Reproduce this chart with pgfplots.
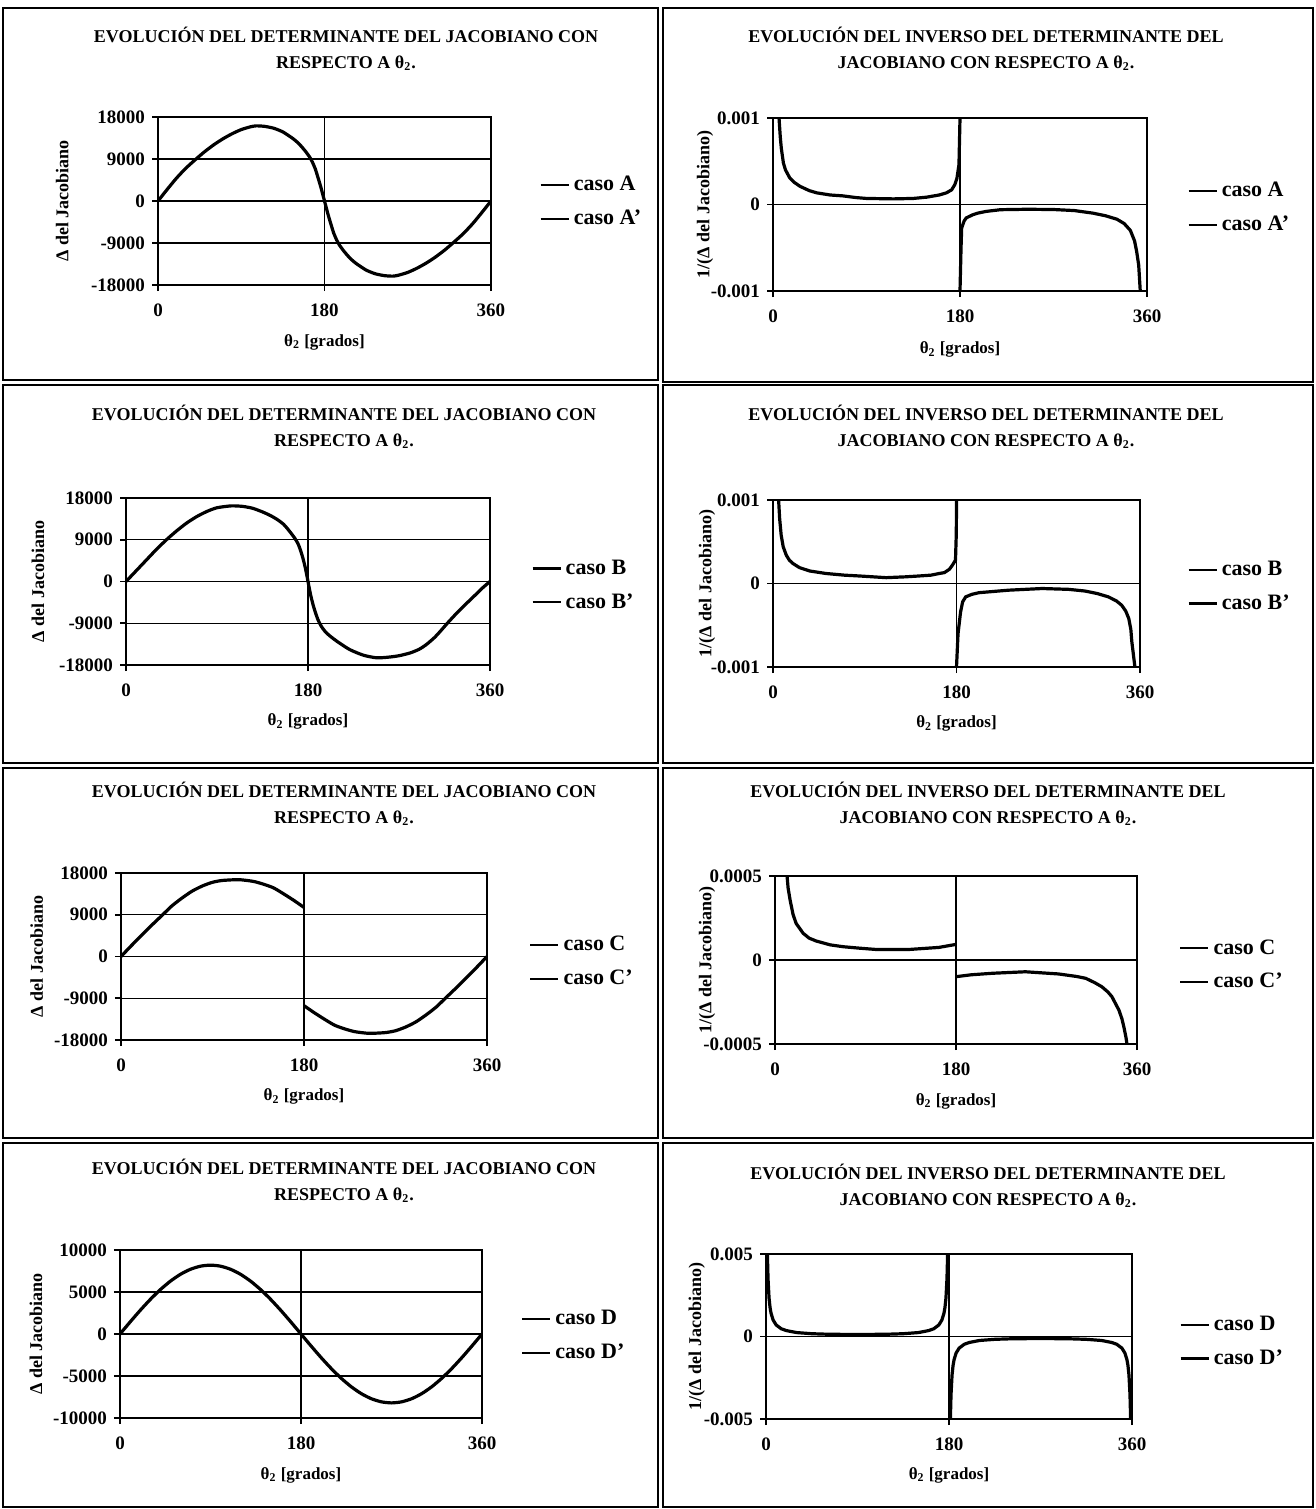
\documentclass[border=0pt]{standalone}
\usepackage{fontspec}
\setmainfont{Liberation Serif}
\usepackage{pgfplots}
\pgfplotsset{compat=1.18}

\pgfplotsset{
  panel/.style={
    scale only axis, anchor=south west,
    xmin=0, xmax=360, xtick={0,180,360}, xticklabels={0,180,360},
    scaled y ticks=false,
    xmajorgrids, ymajorgrids, grid style={black, line width=0.7pt},
    axis line style={line width=1pt}, tick style={black, line width=0.8pt},
    tick pos=left, tick align=outside, major tick length=3pt,
    ticklabel style={font=\bfseries\fontsize{9.5}{10}\selectfont},
    xticklabel style={yshift=-3pt},
    xlabel={θ\textsubscript{2} [grados]},
    xlabel style={at={(axis description cs:0.5,-0.34)}, anchor=center, font=\bfseries\fontsize{8.5}{10}\selectfont},
    ylabel style={anchor=center, font=\bfseries\fontsize{9}{10}\selectfont},
    legend style={draw=none, fill=none, anchor=west, font=\bfseries\fontsize{11}{12}\selectfont, row sep=4pt},
    legend cell align=left,
    legend image code/.code={\draw[black, line width=1.2pt] (0pt,0pt) -- (14pt,0pt);},
    cycle list={{black, line width=1.6pt, no markers},{black, line width=1.6pt, no markers}},
  },
  det/.style={ymin=-18000, ymax=18000, ytick={-18000,-9000,0,9000,18000},
    yticklabels={-18000,-9000,0,9000,18000}, ylabel={Δ del Jacobiano}},
  inv/.style={ylabel={1/(Δ del Jacobiano)}},
}
\newcommand{\ttl}[4]{%
  \node[font=\bfseries\fontsize{9}{10}\selectfont] at (#1pt,#2pt) {#3};
  \node[font=\bfseries\fontsize{9}{10}\selectfont] at (#1pt,#2pt-14pt) {#4};}

\begin{document}
\begin{tikzpicture}
\path[use as bounding box] (0,0) rectangle (658pt,-754.5pt);
% chart areas
\draw[line width=0.6pt] (1.5pt,-4pt) rectangle (329pt,-190pt);
\draw[line width=0.6pt] (331.5pt,-4pt) rectangle (656.5pt,-191pt);
\draw[line width=0.6pt] (1.5pt,-192.5pt) rectangle (329pt,-381.5pt);
\draw[line width=0.6pt] (331.5pt,-192.5pt) rectangle (656.5pt,-381.5pt);
\draw[line width=0.6pt] (1.5pt,-384pt) rectangle (329pt,-569pt);
\draw[line width=0.6pt] (331.5pt,-384pt) rectangle (656.5pt,-569pt);
\draw[line width=0.6pt] (1.5pt,-571.5pt) rectangle (329pt,-753.5pt);
\draw[line width=0.6pt] (331.5pt,-571.5pt) rectangle (656.5pt,-753.5pt);

% titles
\ttl{173}{-17.5}{EVOLUCIÓN DEL DETERMINANTE DEL JACOBIANO CON}{RESPECTO A θ\textsubscript{2}.}
\ttl{493}{-17.5}{EVOLUCIÓN DEL INVERSO DEL DETERMINANTE DEL}{JACOBIANO CON RESPECTO A θ\textsubscript{2}.}
\ttl{172}{-206.5}{EVOLUCIÓN DEL DETERMINANTE DEL JACOBIANO CON}{RESPECTO A θ\textsubscript{2}.}
\ttl{493}{-206.5}{EVOLUCIÓN DEL INVERSO DEL DETERMINANTE DEL}{JACOBIANO CON RESPECTO A θ\textsubscript{2}.}
\ttl{172}{-395}{EVOLUCIÓN DEL DETERMINANTE DEL JACOBIANO CON}{RESPECTO A θ\textsubscript{2}.}
\ttl{494}{-395}{EVOLUCIÓN DEL INVERSO DEL DETERMINANTE DEL}{JACOBIANO CON RESPECTO A θ\textsubscript{2}.}
\ttl{172}{-583.5}{EVOLUCIÓN DEL DETERMINANTE DEL JACOBIANO CON}{RESPECTO A θ\textsubscript{2}.}
\ttl{494}{-586}{EVOLUCIÓN DEL INVERSO DEL DETERMINANTE DEL}{JACOBIANO CON RESPECTO A θ\textsubscript{2}.}

% ---- row 1: caso A
\begin{axis}[panel, det, at={(79pt,-142.5pt)}, width=166.5pt, height=84pt,
  ylabel style={at={(axis description cs:-0.288,0.5)}},
  legend style={at={(1.126,0.494)}}]
\addplot+[smooth, tension=0.4] coordinates {(0,0) (10,2500) (20,4900) (30,7000) (40,8800) (50,10500) (60,12000) (70,13300) (80,14400) (90,15300) (100,15900) (106,16100) (115,16000) (125,15600) (135,14800) (145,13500) (150,12700) (155,11700) (160,10500) (164,9400) (167,8300) (170,6900) (173,5000) (176,3000) (180,0)};
\addlegendentry{caso A}
\addplot+[smooth, tension=0.4] coordinates {(180,0) (184,-3000) (187,-5000) (190,-6900) (193,-8300) (196,-9400) (200,-10500) (205,-11700) (210,-12700) (215,-13500) (225,-14800) (235,-15600) (245,-16000) (254,-16100) (260,-15900) (270,-15300) (280,-14400) (290,-13300) (300,-12000) (310,-10500) (320,-8800) (330,-7000) (340,-4900) (350,-2500) (360,0)};
\addlegendentry{caso A'}
\end{axis}

\begin{axis}[panel, inv, at={(386.5pt,-145.5pt)}, width=187pt, height=86.5pt,
  ymin=-0.001, ymax=0.001, ytick={-0.001,0,0.001}, yticklabels={-0.001,0,0.001},
  ylabel style={at={(axis description cs:-0.182,0.5)}},
  legend style={at={(1.091,0.48)}}]
\addplot coordinates {(5.8,0.001) (7,0.00078) (8,0.00065) (10,0.00048) (12,0.0004) (16,0.00031) (20,0.00026) (26,0.00021) (35,0.00016) (42,0.000135) (55,0.00011) (67,0.0001) (80,0.00008) (90,0.00007) (116,0.000065) (135,0.00007) (148,0.000085) (160,0.00011) (167,0.000135) (172,0.00017) (175,0.00023) (177,0.0003) (179,0.00046) (180,0.001)};
\addlegendentry{caso A}
\addplot coordinates {(180,-0.001) (181,-0.0005) (181.6,-0.00027) (184,-0.00019) (186,-0.000155) (192,-0.00012) (197,-0.0001) (205,-0.00008) (219,-0.00006) (245,-0.000055) (270,-0.000058) (290,-0.00007) (308,-0.0001) (320,-0.00013) (331,-0.00017) (338,-0.00022) (344,-0.0003) (348,-0.00042) (350,-0.00054) (352,-0.0007) (353.5,-0.001)};
\addlegendentry{caso A'}
\end{axis}

% ---- row 2: caso B
\begin{axis}[panel, det, at={(63pt,-332.5pt)}, width=182pt, height=83.5pt,
  ylabel style={at={(axis description cs:-0.242,0.5)}},
  legend style={at={(1.096,0.476)}}]
\addplot+[smooth, tension=0.4] coordinates {(0,0) (10,2300) (20,4600) (30,6900) (40,9000) (50,10900) (60,12600) (70,14000) (80,15100) (90,15900) (104,16300) (115,16200) (125,15800) (135,15000) (143,14200) (150,13300) (156,12300) (160,11300) (164,10200) (167,9300) (170,8200) (172.5,6800) (175,5000) (177.5,2800) (180,0)};
\addlegendentry{caso B}
\addplot+[smooth, tension=0.4] coordinates {(180,0) (182.5,-2800) (185,-5000) (187.5,-6800) (190,-8300) (193,-9600) (197,-10800) (202,-11800) (210,-13100) (221.5,-14700) (235,-15900) (248,-16450) (260,-16300) (270,-16000) (281,-15400) (290,-14600) (297,-13600) (305,-12100) (311,-10700) (317,-9200) (325,-7300) (335,-5100) (345,-3000) (352,-1500) (360,0)};
\addlegendentry{caso B'}
\end{axis}

\begin{axis}[panel, inv, at={(386.5pt,-333.5pt)}, width=183.5pt, height=83.5pt,
  ymin=-0.001, ymax=0.001, ytick={-0.001,0,0.001}, yticklabels={-0.001,0,0.001},
  ylabel style={at={(axis description cs:-0.18,0.5)}},
  legend style={at={(1.112,0.48)}}]
\addplot coordinates {(5.5,0.001) (6.5,0.00078) (8,0.00058) (10,0.00044) (13,0.00034) (16,0.00028) (19.5,0.00024) (26,0.00019) (36,0.00015) (52,0.00012) (70,0.0001) (85,0.00009) (111,0.00007) (130,0.00008) (143,0.00009) (155,0.0001) (163,0.00012) (168,0.00013) (173,0.00017) (176,0.00022) (179,0.00028) (179.8,0.0006) (180,0.001)};
\addlegendentry{caso B}
\addplot coordinates {(180,-0.001) (181.5,-0.0006) (184,-0.00034) (186,-0.00022) (189,-0.00016) (195,-0.00013) (202,-0.00011) (231,-0.00008) (264,-0.00006) (290,-0.00007) (306,-0.00009) (318,-0.00012) (329,-0.00016) (337,-0.00021) (342,-0.00026) (346,-0.00033) (349,-0.00042) (351,-0.00055) (352,-0.0007) (353.5,-0.00085) (355,-0.001)};
\addlegendentry{caso B'}
\end{axis}

% ---- row 3: caso C
\begin{axis}[panel, det, at={(60.5pt,-520pt)}, width=183pt, height=83.5pt,
  ylabel style={at={(axis description cs:-0.23,0.5)}},
  legend style={at={(1.098,0.467)}}]
\addplot+[smooth, tension=0.4] coordinates {(0,0) (10,2300) (20,4500) (30,6700) (41,9000) (50,10900) (60,12600) (70,14100) (80,15200) (90,16000) (100,16400) (116,16560) (130,16200) (140,15600) (150,14800) (160,13500) (170,12100) (180,10580)};
\addlegendentry{caso C}
\addplot+[smooth, tension=0.4] coordinates {(180,-10600) (190,-12100) (200,-13500) (210,-14800) (220,-15600) (230,-16200) (244,-16560) (260,-16400) (270,-16000) (280,-15200) (290,-14100) (300,-12600) (310,-10900) (319,-9000) (330,-6700) (340,-4500) (350,-2300) (360,0)};
\addlegendentry{caso C'}
\end{axis}

\begin{axis}[panel, inv, at={(387.5pt,-522pt)}, width=181pt, height=84pt,
  ymin=-0.0005, ymax=0.0005, ytick={-0.0005,0,0.0005}, yticklabels={-0.0005,0,0.0005},
  ylabel style={at={(axis description cs:-0.188,0.5)}},
  legend style={at={(1.099,0.47)}}]
\addplot coordinates {(12,0.0005) (13,0.00043) (15,0.000357) (18,0.00027) (21,0.000218) (28,0.000159) (34,0.00013) (41,0.000113) (55,0.00009) (68,0.000079) (85,0.00007) (100,0.000063) (134,0.000063) (163,0.000075) (180,0.000093)};
\addlegendentry{caso C}
\addplot coordinates {(180,-0.0000992) (195,-0.000088) (216,-0.000079) (249,-0.00007) (282,-0.000083) (300,-0.000098) (309,-0.000109) (318,-0.000135) (325,-0.000159) (331,-0.00019) (335,-0.000218) (342,-0.000298) (345,-0.00035) (347,-0.0004) (349,-0.00046) (350,-0.0005)};
\addlegendentry{caso C'}
\end{axis}

% ---- row 4: caso D
\begin{axis}[panel, at={(60pt,-709pt)}, width=181pt, height=84pt,
  ymin=-10000, ymax=10000, ytick={-10000,-5000,0,5000,10000},
  yticklabels={-10000,-5000,0,5000,10000}, ylabel={Δ del Jacobiano},
  ylabel style={at={(axis description cs:-0.232,0.5)}},
  legend style={at={(1.09,0.488)}}]
\addplot+[smooth, tension=0.4] coordinates {(0,0) (10,1424) (20,2805) (30,4100) (40,5271) (50,6281) (60,7101) (70,7705) (80,8075) (90,8200) (100,8075) (110,7705) (120,7101) (130,6281) (140,5271) (150,4100) (160,2805) (170,1424) (180,0)};
\addlegendentry{caso D}
\addplot+[smooth, tension=0.4] coordinates {(180,0) (190,-1424) (200,-2805) (210,-4100) (220,-5271) (230,-6281) (240,-7101) (250,-7705) (260,-8075) (270,-8200) (280,-8075) (290,-7705) (300,-7101) (310,-6281) (320,-5271) (330,-4100) (340,-2805) (350,-1424) (360,0)};
\addlegendentry{caso D'}
\end{axis}

\begin{axis}[panel, inv, at={(383pt,-709.5pt)}, width=183pt, height=82.5pt,
  ymin=-0.005, ymax=0.005, ytick={-0.005,0,0.005}, yticklabels={-0.005,0,0.005},
  ylabel style={at={(axis description cs:-0.189,0.5)}},
  legend style={at={(1.112,0.467)}}]
\addplot coordinates {(1.4,0.005) (1.5,0.00466) (2,0.0035) (3,0.00233) (4,0.00175) (5,0.0014) (7,0.001) (10,0.0007) (15,0.00047) (20,0.00036) (30,0.00024) (45,0.00017) (60,0.00014) (90,0.00012) (120,0.00014) (135,0.00017) (150,0.00024) (160,0.00036) (165,0.00047) (170,0.0007) (173,0.001) (175,0.0014) (176,0.00175) (177,0.00233) (178,0.0035) (178.5,0.00466) (178.6,0.005)};
\addlegendentry{caso D}
\addplot coordinates {(181.4,-0.005) (181.5,-0.00466) (182,-0.0035) (183,-0.00233) (184,-0.00175) (185,-0.0014) (187,-0.001) (190,-0.0007) (195,-0.00047) (200,-0.00036) (210,-0.00024) (225,-0.00017) (240,-0.00014) (270,-0.00012) (300,-0.00014) (315,-0.00017) (330,-0.00024) (340,-0.00036) (345,-0.00047) (350,-0.0007) (353,-0.001) (355,-0.0014) (356,-0.00175) (357,-0.00233) (358,-0.0035) (358.5,-0.00466) (358.6,-0.005)};
\addlegendentry{caso D'}
\end{axis}
\end{tikzpicture}
\end{document}
